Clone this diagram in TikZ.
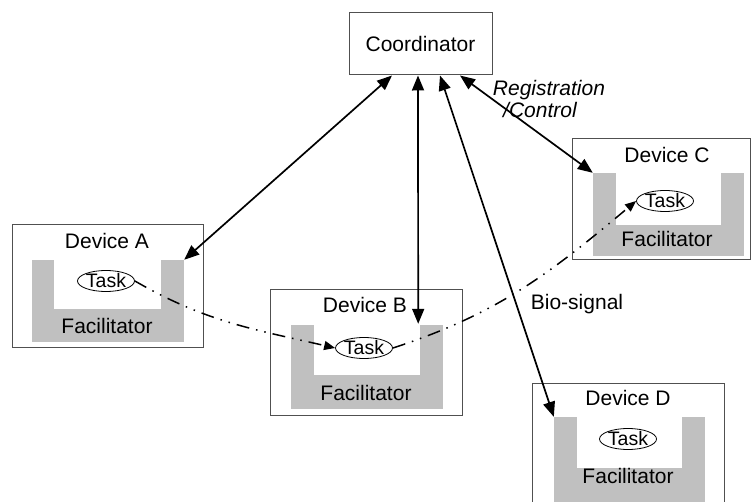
\documentclass[tikz,border=0pt]{standalone}
\usepackage{fontspec}
\setmainfont{Liberation Sans}
\usetikzlibrary{arrows.meta,calc,shapes.geometric}
\definecolor{facgray}{RGB}{192,192,192}
\definecolor{boxline}{RGB}{80,80,80}
\begin{document}
\begin{tikzpicture}[x=1pt,y=1pt,
  every node/.style={font=\fontsize{21}{24}\selectfont},
  devbox/.style={draw=boxline, line width=1pt, fill=white, inner sep=0pt},
  facbox/.style={fill=facgray, draw=none, inner sep=0pt},
  inbox/.style={fill=white, draw=none, inner sep=0pt},
  txt/.style={inner sep=0pt},
  task/.style={ellipse, draw, line width=0.8pt, fill=white, inner sep=-4pt, minimum width=57pt, minimum height=21pt, font=\fontsize{19.5}{22}\selectfont},
  biarrow/.style={line width=1.7pt, {Triangle[length=15pt,width=12pt]}-{Triangle[length=15pt,width=12pt]}},
  flow/.style={line width=1.5pt, dash pattern=on 13pt off 7pt on 1.5pt off 7pt on 1.5pt off 7pt, -{Triangle[length=11pt,width=9pt]}}
]
\useasboundingbox (0,0) rectangle (752,-502);
\clip (0,0) rectangle (752,-502);

% Coordinator
\node[devbox, minimum width=143pt, minimum height=62pt] (coord) at (420.5,-44) {Coordinator};

% Device A
\node[devbox, minimum width=191pt, minimum height=123pt] (boxA) at (107.5,-286.5) {};
\node[facbox, minimum width=152pt, minimum height=82pt] (facA) at (108,-301) {};
\node[inbox, minimum width=107pt, minimum height=50pt] (innA) at (107.5,-284.5) {};
\node[txt] (lA) at (107,-241) {Device A};
\node[txt] (fA) at (107,-326) {Facilitator};
\node[task] (tA) at (106,-281) {Task};

% Device B
\node[devbox, minimum width=192pt, minimum height=125pt] (boxB) at (366,-352.5) {};
\node[facbox, minimum width=152pt, minimum height=84pt] (facB) at (367,-367) {};
\node[inbox, minimum width=106pt, minimum height=51pt] (innB) at (367,-349.5) {};
\node[txt] (lB) at (365,-305) {Device B};
\node[txt] (fB) at (366,-393) {Facilitator};
\node[task] (tB) at (364,-348) {Task};

% Device C
\node[devbox, minimum width=178pt, minimum height=121pt] (boxC) at (661,-199.5) {};
\node[facbox, minimum width=151pt, minimum height=83pt] (facC) at (668.5,-214.5) {};
\node[inbox, minimum width=105pt, minimum height=53pt] (innC) at (668.5,-198.5) {};
\node[txt] (lC) at (667,-155) {Device C};
\node[txt] (fC) at (667,-239) {Facilitator};
\node[task] (tC) at (665,-201) {Task};

% Device D
\node[devbox, minimum width=192pt, minimum height=137pt] (boxD) at (628,-451.5) {};
\node[facbox, minimum width=151pt, minimum height=103pt] (facD) at (629.5,-468.5) {};
\node[inbox, minimum width=105pt, minimum height=52pt] (innD) at (629.5,-442) {};
\node[txt] (lD) at (628,-398) {Device D};
\node[txt] (fD) at (628,-476) {Facilitator};
\node[task] (tD) at (628,-439) {Task};

% Bio-signal flow
\draw[flow] (tA.east) to[out=-30,in=167] (tB.west);
\draw[flow] (tB.east) to[out=18,in=220] (tC.west);

% Registration / control arrows
\draw[biarrow] ($(coord.south)+(-28.5,0)$) -- (facA.north east);
\draw[biarrow] ($(coord.south)+(-2.5,0)$) -- ($(innB.north east)+(-2,0)$);
\draw[biarrow] ($(coord.south)+(19.5,0)$) -- (facD.north west);
\draw[biarrow] ($(coord.south)+(39.5,0)$) -- (facC.north west);

% Labels
\node[txt, font=\fontsize{21}{24}\selectfont\itshape] (lReg) at (549,-90) {Registration};
\node[txt, font=\fontsize{21}{24}\selectfont\itshape] (lCtl) at (540,-110) {/Control};
\node[txt] (lBio) at (577,-304) {Bio-signal};
\end{tikzpicture}
\end{document}
